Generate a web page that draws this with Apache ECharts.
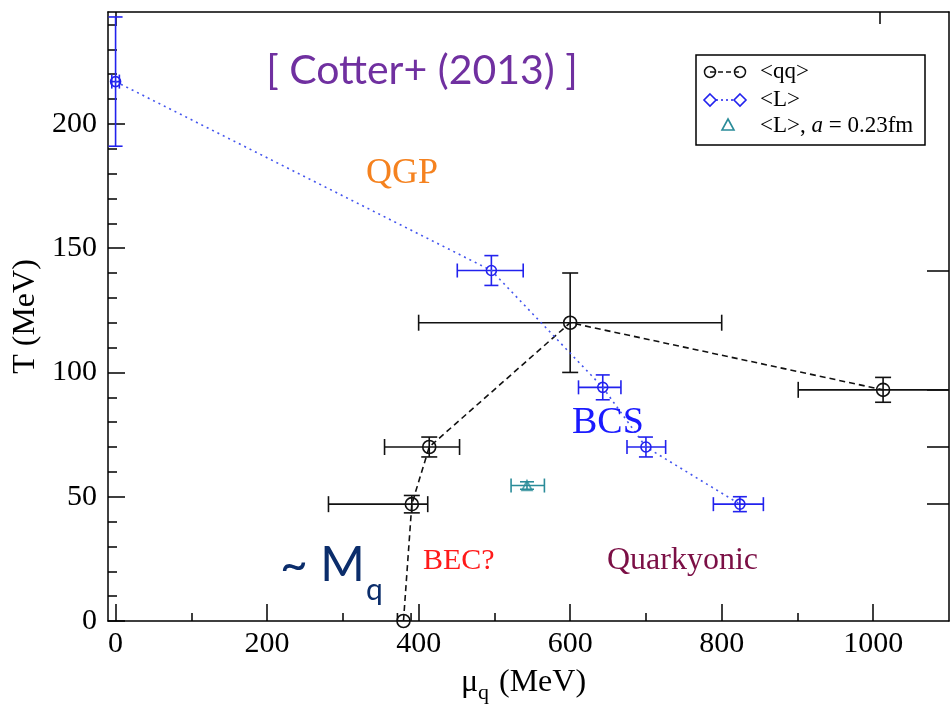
<!DOCTYPE html>
<html><head><meta charset="utf-8">
<script src="https://cdn.jsdelivr.net/npm/echarts@6/dist/echarts.min.js"></script>
<style>html,body{margin:0;padding:0;background:#fff}#c{width:952px;height:714px}</style>
</head><body><div id="c"></div>
<script>
// ---- axis ticks ----
const xMajorTicks = [0, 200, 400, 600, 800, 1000];
const xMinorTicks = [100, 300, 500, 700, 900];
const xTopTicks = [0, 1008];
const yMajorTicks = [0, 50, 100, 150, 200];
const yMinorTicks = [10,20,30,40,60,70,80,90,110,120,130,140,160,170,180,190,210,220,230,240];
const yRightTicks = [47, 70, 93, 141];

// ---- <qq> ----
const qqMu   = [380, 391, 414, 600, 1013];
const qqT    = [0, 47, 70, 120, 93];
const qqMuLo = [372, 281, 355, 400, 901];
const qqMuHi = [390, 412, 454, 800, 1125];
const qqTErr = [0, 3.5, 4, 20, 5];

// ---- <L> ----
const LMu   = [0, 496, 643, 700, 824];
const LT    = [217, 141, 94, 70, 47];
const LMuLo = [-5, 451, 611, 675, 789];
const LMuHi = [5, 538, 667, 726, 855];
const LTErr = [26, 6, 5, 4, 3];

// ---- <L>, a = 0.23 fm ----
const aMu   = [543];
const aT    = [54.5];
const aMuLo = [522];
const aMuHi = [566];
const aTErr = [1.5];

const SERIF = '"Liberation Serif", "Times New Roman", serif';
const SANS = 'Lato, "Open Sans", sans-serif';
const BLACK = '#111';
const BLUE = '#2222ee';
const TEAL = '#2a8c99';

function rows(mu, t, lo, hi, e) { return mu.map((m, i) => [m, t[i], lo[i], hi[i], e[i]]); }
function pts(mu, t) { return mu.map((m, i) => [m, t[i]]); }

function errRender(color, cap, lw) {
  return function (params, api) {
    const x = api.value(0), y = api.value(1), lo = api.value(2), hi = api.value(3), e = api.value(4);
    const c = api.coord([x, y]);
    const pl = api.coord([lo, y]);
    const ph = api.coord([hi, y]);
    const st = { stroke: color, lineWidth: lw };
    const ch = [];
    ch.push({ type: 'line', shape: { x1: pl[0], y1: c[1], x2: ph[0], y2: c[1] }, style: st });
    ch.push({ type: 'line', shape: { x1: pl[0], y1: c[1] - cap, x2: pl[0], y2: c[1] + cap }, style: st });
    ch.push({ type: 'line', shape: { x1: ph[0], y1: c[1] - cap, x2: ph[0], y2: c[1] + cap }, style: st });
    if (e > 0) {
      const pt = api.coord([x, y + e]);
      const pb = api.coord([x, y - e]);
      ch.push({ type: 'line', shape: { x1: c[0], y1: pt[1], x2: c[0], y2: pb[1] }, style: st });
      ch.push({ type: 'line', shape: { x1: c[0] - cap, y1: pt[1], x2: c[0] + cap, y2: pt[1] }, style: st });
      ch.push({ type: 'line', shape: { x1: c[0] - cap, y1: pb[1], x2: c[0] + cap, y2: pb[1] }, style: st });
    }
    return { type: 'group', children: ch };
  };
}

const tickStyle = { color: '#000', width: 1.5 };
const baseX = { type: 'value', min: -10, max: 1100, gridIndex: 0, splitLine: { show: false } };
const baseY = { type: 'value', min: 0, max: 245, gridIndex: 0, splitLine: { show: false } };
const plain = v => String(v);

const chart = echarts.init(document.getElementById('c'), null, { renderer: 'canvas' });
chart.setOption({
  animation: false,
  backgroundColor: '#fff',
  grid: { left: 108, right: 3, top: 12, bottom: 93, containLabel: false },
  xAxis: [
    Object.assign({}, baseX, {
      position: 'bottom',
      axisLine: { show: true, onZero: false, lineStyle: tickStyle },
      axisTick: { show: true, inside: true, length: 17, customValues: xMajorTicks, lineStyle: tickStyle },
      axisLabel: { show: true, customValues: xMajorTicks, formatter: plain, fontFamily: SERIF, fontSize: 30, color: '#000', margin: 8 }
    }),
    Object.assign({}, baseX, {
      position: 'bottom',
      axisLine: { show: false, onZero: false },
      axisTick: { show: true, inside: true, length: 8, customValues: xMinorTicks, lineStyle: tickStyle },
      axisLabel: { show: false }
    }),
    Object.assign({}, baseX, {
      position: 'top',
      axisLine: { show: true, onZero: false, lineStyle: tickStyle },
      axisTick: { show: true, inside: true, length: 12, customValues: xTopTicks, lineStyle: tickStyle },
      axisLabel: { show: false }
    })
  ],
  yAxis: [
    Object.assign({}, baseY, {
      position: 'left',
      name: 'T (MeV)', nameLocation: 'middle', nameGap: 64,
      nameTextStyle: { fontFamily: SERIF, fontSize: 32, color: '#000' },
      axisLine: { show: true, onZero: false, lineStyle: tickStyle },
      axisTick: { show: true, inside: true, length: 17, customValues: yMajorTicks, lineStyle: tickStyle },
      axisLabel: { show: true, customValues: yMajorTicks, formatter: plain, fontFamily: SERIF, fontSize: 30, color: '#000', margin: 11 }
    }),
    Object.assign({}, baseY, {
      position: 'left',
      axisLine: { show: false, onZero: false },
      axisTick: { show: true, inside: true, length: 9, customValues: yMinorTicks, lineStyle: tickStyle },
      axisLabel: { show: false }
    }),
    Object.assign({}, baseY, {
      position: 'right',
      axisLine: { show: true, onZero: false, lineStyle: tickStyle },
      axisTick: { show: true, inside: true, length: 22, customValues: yRightTicks, lineStyle: tickStyle },
      axisLabel: { show: false }
    })
  ],
  series: [
    { type: 'custom', name: 'qqErr', xAxisIndex: 0, yAxisIndex: 0, clip: true, z: 2,
      renderItem: errRender(BLACK, 8, 1.6), encode: { x: 0, y: 1 },
      data: rows(qqMu, qqT, qqMuLo, qqMuHi, qqTErr) },
    { type: 'custom', name: 'LErr', xAxisIndex: 0, yAxisIndex: 0, clip: true, z: 2,
      renderItem: errRender(BLUE, 7, 1.6), encode: { x: 0, y: 1 },
      data: rows(LMu, LT, LMuLo, LMuHi, LTErr) },
    { type: 'custom', name: 'aErr', xAxisIndex: 0, yAxisIndex: 0, clip: true, z: 2,
      renderItem: errRender(TEAL, 7, 1.6), encode: { x: 0, y: 1 },
      data: rows(aMu, aT, aMuLo, aMuHi, aTErr) },
    { type: 'line', name: '<qq>', xAxisIndex: 0, yAxisIndex: 0, z: 3,
      data: pts(qqMu, qqT), symbol: 'circle', symbolSize: 13,
      itemStyle: { color: 'rgba(0,0,0,0)', borderColor: BLACK, borderWidth: 1.6 },
      lineStyle: { color: BLACK, width: 1.6, type: [6, 4] } },
    { type: 'line', name: '<L>', xAxisIndex: 0, yAxisIndex: 0, z: 3,
      data: pts(LMu, LT), symbol: 'circle', symbolSize: 10,
      itemStyle: { color: 'rgba(0,0,0,0)', borderColor: BLUE, borderWidth: 1.6 },
      lineStyle: { color: '#4455ee', width: 1.6, type: [2, 4] } },
    { type: 'scatter', name: '<L>, a = 0.23fm', xAxisIndex: 0, yAxisIndex: 0, z: 3,
      data: pts(aMu, aT), symbol: 'triangle', symbolSize: 10,
      itemStyle: { color: 'rgba(0,0,0,0)', borderColor: TEAL, borderWidth: 1.6 } }
  ],
  graphic: [
    // legend
    { type: 'rect', shape: { x: 696, y: 55, width: 229, height: 90 }, style: { fill: '#fff', stroke: '#000', lineWidth: 1.5 }, z: 10 },
    { type: 'line', shape: { x1: 710, y1: 72, x2: 740, y2: 72 }, style: { stroke: BLACK, lineWidth: 1.5, lineDash: [5, 3] }, z: 11 },
    { type: 'circle', shape: { cx: 710, cy: 72, r: 5.5 }, style: { fill: 'none', stroke: BLACK, lineWidth: 1.5 }, z: 11 },
    { type: 'circle', shape: { cx: 740, cy: 72, r: 5.5 }, style: { fill: 'none', stroke: BLACK, lineWidth: 1.5 }, z: 11 },
    { type: 'line', shape: { x1: 716, y1: 100, x2: 734, y2: 100 }, style: { stroke: BLUE, lineWidth: 1.5, lineDash: [2, 3] }, z: 11 },
    { type: 'polygon', shape: { points: [[710, 94], [716, 100], [710, 106], [704, 100]] }, style: { fill: '#fff', stroke: BLUE, lineWidth: 1.6 }, z: 11 },
    { type: 'polygon', shape: { points: [[740, 94], [746, 100], [740, 106], [734, 100]] }, style: { fill: '#fff', stroke: BLUE, lineWidth: 1.6 }, z: 11 },
    { type: 'polygon', shape: { points: [[728, 119], [734, 130], [722, 130]] }, style: { fill: '#fff', stroke: TEAL, lineWidth: 1.6 }, z: 11 },
    { type: 'text', x: 760, y: 72, z: 11, style: { text: '<qq>', font: '23px ' + SERIF, fill: '#000', verticalAlign: 'middle' } },
    { type: 'text', x: 760, y: 100, z: 11, style: { text: '<L>', font: '23px ' + SERIF, fill: '#000', verticalAlign: 'middle' } },
    { type: 'text', x: 760, y: 126, z: 11, style: {
        text: '{n|<L>, }{i|a}{n| = 0.23fm}', verticalAlign: 'middle', fill: '#000',
        rich: { n: { fontFamily: SERIF, fontSize: 23, fill: '#000' }, i: { fontFamily: SERIF, fontSize: 23, fontStyle: 'italic', fill: '#000' } } } },
    // annotations
    { type: 'text', x: 422, y: 71, z: 12, style: { text: '[ Cotter+ (2013) ]', font: '41px ' + SANS, fill: '#7030a0', align: 'center', verticalAlign: 'middle' } },
    { type: 'text', x: 366, y: 174, z: 12, style: { text: 'QGP', font: '36px ' + SERIF, fill: '#f5821f', verticalAlign: 'middle' } },
    { type: 'text', x: 572, y: 423, z: 12, style: { text: 'BCS', font: '38px ' + SERIF, fill: '#1a1aff', verticalAlign: 'middle' } },
    { type: 'text', x: 423, y: 561, z: 12, style: { text: 'BEC?', font: '30px ' + SERIF, fill: '#ff1a1a', verticalAlign: 'middle' } },
    { type: 'text', x: 607, y: 561, z: 12, style: { text: 'Quarkyonic', font: '32px ' + SERIF, fill: '#7b0f45', verticalAlign: 'middle' } },
    { type: 'text', x: 280, y: 566, z: 12, style: { text: '~ M', font: '48px ' + SANS, fill: '#0b2d6b', verticalAlign: 'middle' } },
    { type: 'text', x: 366, y: 590, z: 12, style: { text: 'q', font: '30px ' + SANS, fill: '#0b2d6b', verticalAlign: 'middle' } },
    // x axis title
    { type: 'text', x: 461, y: 683, z: 12, style: { text: 'μ', font: '32px ' + SERIF, fill: '#000', verticalAlign: 'middle' } },
    { type: 'text', x: 478, y: 693, z: 12, style: { text: 'q', font: '22px ' + SERIF, fill: '#000', verticalAlign: 'middle' } },
    { type: 'text', x: 499, y: 683, z: 12, style: { text: '(MeV)', font: '32px ' + SERIF, fill: '#000', verticalAlign: 'middle' } }
  ]
});
</script>
</body></html>
